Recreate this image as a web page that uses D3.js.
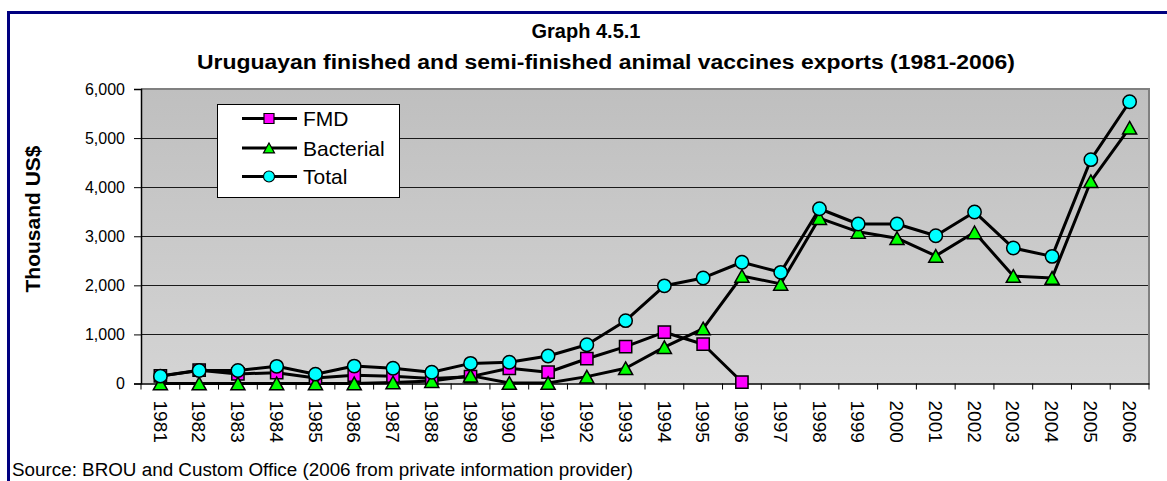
<!DOCTYPE html>
<html>
<head>
<meta charset="utf-8">
<script src="https://cdn.jsdelivr.net/npm/d3@7/dist/d3.min.js"></script>
<style>
  html, body { margin: 0; padding: 0; background: #fff; }
  svg { display: block; font-family: "Liberation Sans", Arial, sans-serif; }
</style>
</head>
<body>
<svg id="chart" width="1167" height="481"></svg>
<script>
// Export values, thousand US$
const years = ["1981","1982","1983","1984","1985","1986","1987","1988","1989","1990",
  "1991","1992","1993","1994","1995","1996","1997","1998","1999","2000",
  "2001","2002","2003","2004","2005","2006"];
const fmd = [155, 270, 195, 220, 110, 170, 150, 100, 140, 310,
  230, 505, 750, 1045, 800, 30, null, null, null, null,
  null, null, null, null, null, null];
const bacterial = [0, 0, 0, 0, 0, 0, 20, 50, 160, 10,
  10, 140, 310, 740, 1120, 2190, 2030, 3370, 3090, 2960,
  2600, 3080, 2190, 2150, 4120, 5210];
const total = [150, 265, 265, 350, 190, 355, 310, 230, 410, 432,
  560, 790, 1280, 1990, 2150, 2470, 2265, 3560, 3250, 3250,
  3010, 3495, 2760, 2590, 4560, 5740];
const yTicks = [0, 1000, 2000, 3000, 4000, 5000, 6000];

const titleLine1 = "Graph 4.5.1";
const titleLine2 = "Uruguayan finished and semi-finished animal vaccines exports (1981-2006)";
const yLabel = "Thousand US$";
const sourceNote = "Source: BROU and Custom Office (2006 from private information provider)";

const svg = d3.select("#chart");
const plot = { left: 141, right: 1149, top: 89, bottom: 383.5 };

const x = d3.scaleBand().domain(years).range([plot.left, plot.right]);
const y = d3.scaleLinear().domain([0, 6000]).range([plot.bottom, plot.top]);
const cx = d => x(d) + x.bandwidth() / 2;

// outer frame
svg.append("rect")
  .attr("x", 8.5).attr("y", 12.5).attr("width", 1180).attr("height", 500)
  .attr("fill", "none").attr("stroke", "#000080").attr("stroke-width", 3);

// titles
svg.append("text").attr("x", 586).attr("y", 38)
  .attr("text-anchor", "middle").attr("font-weight", "bold").attr("font-size", 20)
  .attr("fill", "#000").text(titleLine1);
svg.append("text").attr("x", 606).attr("y", 69)
  .attr("text-anchor", "middle").attr("font-weight", "bold").attr("font-size", 20)
  .attr("textLength", 818).attr("lengthAdjust", "spacingAndGlyphs")
  .attr("fill", "#000").text(titleLine2);

// plot background with a soft vertical gradient
const defs = svg.append("defs");
const grad = defs.append("linearGradient").attr("id", "plotBg")
  .attr("x1", 0).attr("y1", 0).attr("x2", 0).attr("y2", 1);
grad.append("stop").attr("offset", "0%").attr("stop-color", "#bfbfbf");
grad.append("stop").attr("offset", "100%").attr("stop-color", "#d4d4d4");

svg.append("rect")
  .attr("x", plot.left).attr("y", plot.top)
  .attr("width", plot.right - plot.left).attr("height", plot.bottom - plot.top)
  .attr("fill", "url(#plotBg)");

// horizontal gridlines
svg.append("g").selectAll("line")
  .data(yTicks.filter(t => t > 0 && t < 6000))
  .join("line")
  .attr("x1", plot.left).attr("x2", plot.right)
  .attr("y1", d => Math.round(y(d)) + 0.5).attr("y2", d => Math.round(y(d)) + 0.5)
  .attr("stroke", "#1a1a1a").attr("stroke-width", 1);

// plot frame (top / right)
svg.append("path")
  .attr("d", `M${plot.left},${plot.top}H${plot.right}V${plot.bottom}`)
  .attr("fill", "none").attr("stroke", "#808080").attr("stroke-width", 2);

// y axis
const yAxis = svg.append("g")
  .attr("transform", `translate(${plot.left},0)`)
  .call(d3.axisLeft(y).tickValues(yTicks).tickFormat(d3.format(",")).tickSize(7).tickPadding(9));
yAxis.select(".domain").attr("stroke", "#000").attr("stroke-width", 1.5);
yAxis.selectAll(".tick line").attr("stroke", "#000");
yAxis.selectAll(".tick text")
  .attr("font-family", "\"Liberation Sans\", Arial, sans-serif")
  .attr("font-size", 16).attr("fill", "#000");

// x axis: labels centred on categories, ticks on category boundaries
const xAxis = svg.append("g")
  .attr("transform", `translate(0,${plot.bottom})`)
  .call(d3.axisBottom(x).tickSize(0).tickPadding(0));
xAxis.select(".domain").attr("stroke", "#000").attr("stroke-width", 1.5);
xAxis.selectAll(".tick text")
  .attr("font-family", "\"Liberation Sans\", Arial, sans-serif")
  .attr("font-size", 19).attr("fill", "#000")
  .attr("transform", "rotate(90)")
  .attr("text-anchor", "start")
  .attr("x", 17).attr("y", 0).attr("dy", "0.36em");
xAxis.append("g").selectAll("line")
  .data(years.map(d => x(d)).concat([x.range()[1]]))
  .join("line")
  .attr("x1", d => d).attr("x2", d => d)
  .attr("y1", 0).attr("y2", 6)
  .attr("stroke", "#000").attr("stroke-width", 1);

// y axis title
svg.append("text")
  .attr("transform", "translate(40,219) rotate(-90)")
  .attr("text-anchor", "middle").attr("font-weight", "bold").attr("font-size", 21)
  .attr("fill", "#000").text(yLabel);

// source note
svg.append("text").attr("x", 12).attr("y", 476)
  .attr("font-size", 18).attr("textLength", 621).attr("lengthAdjust", "spacingAndGlyphs")
  .attr("fill", "#000").text(sourceNote);

// marker shapes
const triangleBox = {
  draw(ctx, size) {
    const w = Math.sqrt(size * 2.2), h = w * 0.9;
    ctx.moveTo(0, -h / 2);
    ctx.lineTo(w / 2, h / 2);
    ctx.lineTo(-w / 2, h / 2);
    ctx.closePath();
  }
};

const series = [
  { name: "FMD", values: fmd, color: "#ff00ff", type: d3.symbolSquare, size: 150, legendSize: 100 },
  { name: "Bacterial", values: bacterial, color: "#00ff00", type: triangleBox, size: 90, legendSize: 55 },
  { name: "Total", values: total, color: "#00ffff", type: d3.symbolCircle, size: 140, legendSize: 95 }
];

const line = d3.line()
  .defined(d => d.v != null)
  .x(d => cx(d.year))
  .y(d => y(d.v));

series.forEach(s => {
  const pts = years.map((yr, i) => ({ year: yr, v: s.values[i] }));
  svg.append("path")
    .datum(pts)
    .attr("d", line)
    .attr("fill", "none").attr("stroke", "#000").attr("stroke-width", 3)
    .attr("stroke-linejoin", "round");
});

series.forEach(s => {
  const pts = years.map((yr, i) => ({ year: yr, v: s.values[i] })).filter(d => d.v != null);
  svg.append("g").selectAll("path")
    .data(pts)
    .join("path")
    .attr("transform", d => `translate(${cx(d.year)},${y(d.v)})`)
    .attr("d", d3.symbol().type(s.type).size(s.size))
    .attr("fill", s.color).attr("stroke", "#000").attr("stroke-width", 1.5);
});

// legend
const legend = svg.append("g");
legend.append("rect")
  .attr("x", 217.5).attr("y", 104.5).attr("width", 182).attr("height", 93)
  .attr("fill", "#fff").attr("stroke", "#000").attr("stroke-width", 1);
const rows = [118.5, 148, 176.5];
series.forEach((s, i) => {
  const g = legend.append("g").attr("transform", `translate(0,${rows[i]})`);
  g.append("line").attr("x1", 242).attr("x2", 297).attr("y1", 0).attr("y2", 0)
    .attr("stroke", "#000").attr("stroke-width", 3);
  g.append("path").attr("transform", "translate(269,0)")
    .attr("d", d3.symbol().type(s.type).size(s.legendSize))
    .attr("fill", s.color).attr("stroke", "#000").attr("stroke-width", 1.2);
  g.append("text").attr("x", 303).attr("y", 0).attr("dy", "0.36em")
    .attr("font-size", 21).attr("fill", "#000").text(s.name);
});
</script>
</body>
</html>
